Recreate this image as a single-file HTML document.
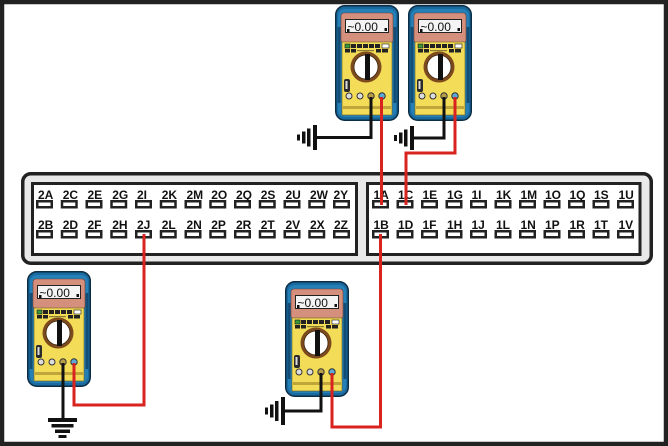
<!DOCTYPE html>
<html><head><meta charset="utf-8"><style>
html,body{margin:0;padding:0;background:#fff;}
svg{display:block;}
.lb{font-family:"Liberation Sans",Arial,sans-serif;font-weight:bold;font-size:12px;fill:#111;}
.pin{fill:#fff;stroke:#222;stroke-width:2.5;}
.dsp{font-family:"Liberation Sans",Arial,sans-serif;font-size:12px;fill:#111;}
</style></head><body>
<svg width="668" height="446" viewBox="0 0 668 446" xmlns="http://www.w3.org/2000/svg">
<defs></defs>
<rect x="2" y="2" width="664" height="442" fill="#fff" stroke="#222" stroke-width="4.5"/>

<!-- connector -->
<rect x="22.75" y="173.75" width="628.5" height="89.5" rx="8" fill="#e9e9e9" stroke="#222" stroke-width="3.5"/>
<rect x="32.5" y="183.5" width="324" height="71" fill="#fff" stroke="#222" stroke-width="3"/>
<rect x="367.5" y="183.5" width="272.5" height="71" fill="#fff" stroke="#222" stroke-width="3"/>

<!-- left pins -->
<g>
<rect class="pin" x="37.25" y="201.25" width="14.5" height="6"/>
<rect class="pin" x="62" y="201.25" width="14.5" height="6"/>
<rect class="pin" x="86.75" y="201.25" width="14.5" height="6"/>
<rect class="pin" x="111.5" y="201.25" width="14.5" height="6"/>
<rect class="pin" x="136.25" y="201.25" width="14.5" height="6"/>
<rect class="pin" x="161" y="201.25" width="14.5" height="6"/>
<rect class="pin" x="185.75" y="201.25" width="14.5" height="6"/>
<rect class="pin" x="210.5" y="201.25" width="14.5" height="6"/>
<rect class="pin" x="235.25" y="201.25" width="14.5" height="6"/>
<rect class="pin" x="260" y="201.25" width="14.5" height="6"/>
<rect class="pin" x="284.75" y="201.25" width="14.5" height="6"/>
<rect class="pin" x="309.5" y="201.25" width="14.5" height="6"/>
<rect class="pin" x="334.25" y="201.25" width="14.5" height="6"/>

<rect class="pin" x="37.25" y="231.25" width="14.5" height="6"/>
<rect class="pin" x="62" y="231.25" width="14.5" height="6"/>
<rect class="pin" x="86.75" y="231.25" width="14.5" height="6"/>
<rect class="pin" x="111.5" y="231.25" width="14.5" height="6"/>
<rect class="pin" x="136.25" y="231.25" width="14.5" height="6"/>
<rect class="pin" x="161" y="231.25" width="14.5" height="6"/>
<rect class="pin" x="185.75" y="231.25" width="14.5" height="6"/>
<rect class="pin" x="210.5" y="231.25" width="14.5" height="6"/>
<rect class="pin" x="235.25" y="231.25" width="14.5" height="6"/>
<rect class="pin" x="260" y="231.25" width="14.5" height="6"/>
<rect class="pin" x="284.75" y="231.25" width="14.5" height="6"/>
<rect class="pin" x="309.5" y="231.25" width="14.5" height="6"/>
<rect class="pin" x="334.25" y="231.25" width="14.5" height="6"/>
</g>
<g class="lb">
<text x="38" y="199">2A</text><text x="62.75" y="199">2C</text><text x="87.5" y="199">2E</text><text x="112.25" y="199">2G</text><text x="137" y="199">2I</text><text x="161.75" y="199">2K</text><text x="186.5" y="199">2M</text><text x="211.25" y="199">2O</text><text x="236" y="199">2Q</text><text x="260.75" y="199">2S</text><text x="285.5" y="199">2U</text><text x="310" y="199">2W</text><text x="333.5" y="199">2Y</text>
<text x="38" y="229">2B</text><text x="62.75" y="229">2D</text><text x="87.5" y="229">2F</text><text x="112.25" y="229">2H</text><text x="137" y="229">2J</text><text x="161.75" y="229">2L</text><text x="186.5" y="229">2N</text><text x="211.25" y="229">2P</text><text x="236" y="229">2R</text><text x="260.75" y="229">2T</text><text x="285.5" y="229">2V</text><text x="310" y="229">2X</text><text x="334" y="229">2Z</text>
</g>

<!-- right pins -->
<g>
<rect class="pin" x="373.25" y="201.25" width="14.5" height="6"/>
<rect class="pin" x="397.75" y="201.25" width="14.5" height="6"/>
<rect class="pin" x="422.25" y="201.25" width="14.5" height="6"/>
<rect class="pin" x="446.75" y="201.25" width="14.5" height="6"/>
<rect class="pin" x="471.25" y="201.25" width="14.5" height="6"/>
<rect class="pin" x="495.75" y="201.25" width="14.5" height="6"/>
<rect class="pin" x="520.25" y="201.25" width="14.5" height="6"/>
<rect class="pin" x="544.75" y="201.25" width="14.5" height="6"/>
<rect class="pin" x="569.25" y="201.25" width="14.5" height="6"/>
<rect class="pin" x="593.75" y="201.25" width="14.5" height="6"/>
<rect class="pin" x="618.25" y="201.25" width="14.5" height="6"/>

<rect class="pin" x="373.25" y="231.25" width="14.5" height="6"/>
<rect class="pin" x="397.75" y="231.25" width="14.5" height="6"/>
<rect class="pin" x="422.25" y="231.25" width="14.5" height="6"/>
<rect class="pin" x="446.75" y="231.25" width="14.5" height="6"/>
<rect class="pin" x="471.25" y="231.25" width="14.5" height="6"/>
<rect class="pin" x="495.75" y="231.25" width="14.5" height="6"/>
<rect class="pin" x="520.25" y="231.25" width="14.5" height="6"/>
<rect class="pin" x="544.75" y="231.25" width="14.5" height="6"/>
<rect class="pin" x="569.25" y="231.25" width="14.5" height="6"/>
<rect class="pin" x="593.75" y="231.25" width="14.5" height="6"/>
<rect class="pin" x="618.25" y="231.25" width="14.5" height="6"/>
</g>
<g class="lb">
<text x="373.5" y="199">1A</text><text x="398" y="199">1C</text><text x="422.5" y="199">1E</text><text x="447" y="199">1G</text><text x="471.5" y="199">1I</text><text x="496" y="199">1K</text><text x="520.5" y="199">1M</text><text x="545" y="199">1O</text><text x="569.5" y="199">1Q</text><text x="594" y="199">1S</text><text x="618.5" y="199">1U</text>
<text x="373.5" y="229">1B</text><text x="398" y="229">1D</text><text x="422.5" y="229">1F</text><text x="447" y="229">1H</text><text x="471.5" y="229">1J</text><text x="496" y="229">1L</text><text x="520.5" y="229">1N</text><text x="545" y="229">1P</text><text x="569.5" y="229">1R</text><text x="594" y="229">1T</text><text x="618.5" y="229">1V</text>
</g>

<!-- Meter top-center -->
<g transform="translate(335,5)">
 <rect x="0.75" y="0.75" width="62.5" height="114.5" rx="9" fill="#196a9e" stroke="#0b2c45" stroke-width="1.5"/>
 <rect x="3" y="4" width="58" height="108" rx="7" fill="#2580b8"/>
 <rect x="2.5" y="22" width="3" height="76" fill="#134d75"/><rect x="58.5" y="22" width="3" height="76" fill="#134d75"/>
 <rect x="6" y="8" width="52" height="30" rx="3" fill="#d48f7d" stroke="#7a3d30" stroke-width="0.6"/>
 <rect x="10.5" y="14.5" width="43" height="13" fill="#f4f4f4" stroke="#222" stroke-width="1"/>
 <text class="dsp" x="12.5" y="26">~0.00</text>
 <rect x="12" y="24" width="2.5" height="3" fill="#111"/><rect x="49.5" y="23" width="2.5" height="3" fill="#111"/>
 <rect x="7" y="37" width="50" height="73" fill="#f3dd58" stroke="#6b5d1a" stroke-width="0.6"/>
 <rect x="10" y="39" width="5" height="4" fill="#3a9a3a" stroke="#111" stroke-width="0.6"/>
 <rect x="16" y="39" width="5" height="4" fill="#222"/><rect x="22" y="39" width="5" height="4" fill="#222"/><rect x="28" y="39" width="5" height="4" fill="#222"/><rect x="34" y="39" width="5" height="4" fill="#222"/><rect x="40" y="39" width="5" height="4" fill="#222"/>
 <rect x="47" y="39" width="7" height="4" fill="#fff" stroke="#111" stroke-width="0.6"/>
 <rect x="10" y="44" width="5" height="3.5" fill="#222"/><rect x="16" y="44" width="5" height="3.5" fill="#222"/><rect x="22" y="45" width="17" height="1.2" fill="#8a7a30"/><rect x="41" y="44" width="5" height="3.5" fill="#222"/><rect x="47" y="44" width="6" height="3.5" fill="#222"/>
 <circle cx="31" cy="62" r="15.5" fill="#7c4a1c"/><circle cx="31" cy="62" r="12" fill="#fff" stroke="#3a2410" stroke-width="0.8"/>
 <rect x="30" y="49" width="5" height="26" fill="#111"/>
 <rect x="9" y="74" width="6" height="13" rx="2" fill="#2a2a2a"/><rect x="10.5" y="76" width="2" height="8" fill="#ddd"/>
 <circle cx="14" cy="91" r="3" fill="#ddd" stroke="#333" stroke-width="1"/><circle cx="25" cy="91" r="3" fill="#ddd" stroke="#333" stroke-width="1"/>
 <circle cx="36" cy="91" r="3.2" fill="#b79d4a" stroke="#333" stroke-width="1"/><circle cx="47" cy="91" r="3.2" fill="#5aa9d6" stroke="#333" stroke-width="1"/>
 <rect x="8" y="101" width="48" height="3" fill="#bfa53a"/>
</g>

<!-- Meter top-right -->
<g transform="translate(408,5)">
 <rect x="0.75" y="0.75" width="62.5" height="114.5" rx="9" fill="#196a9e" stroke="#0b2c45" stroke-width="1.5"/>
 <rect x="3" y="4" width="58" height="108" rx="7" fill="#2580b8"/>
 <rect x="2.5" y="22" width="3" height="76" fill="#134d75"/><rect x="58.5" y="22" width="3" height="76" fill="#134d75"/>
 <rect x="6" y="8" width="52" height="30" rx="3" fill="#d48f7d" stroke="#7a3d30" stroke-width="0.6"/>
 <rect x="10.5" y="14.5" width="43" height="13" fill="#f4f4f4" stroke="#222" stroke-width="1"/>
 <text class="dsp" x="12.5" y="26">~0.00</text>
 <rect x="12" y="24" width="2.5" height="3" fill="#111"/><rect x="49.5" y="23" width="2.5" height="3" fill="#111"/>
 <rect x="7" y="37" width="50" height="73" fill="#f3dd58" stroke="#6b5d1a" stroke-width="0.6"/>
 <rect x="10" y="39" width="5" height="4" fill="#3a9a3a" stroke="#111" stroke-width="0.6"/>
 <rect x="16" y="39" width="5" height="4" fill="#222"/><rect x="22" y="39" width="5" height="4" fill="#222"/><rect x="28" y="39" width="5" height="4" fill="#222"/><rect x="34" y="39" width="5" height="4" fill="#222"/><rect x="40" y="39" width="5" height="4" fill="#222"/>
 <rect x="47" y="39" width="7" height="4" fill="#fff" stroke="#111" stroke-width="0.6"/>
 <rect x="10" y="44" width="5" height="3.5" fill="#222"/><rect x="16" y="44" width="5" height="3.5" fill="#222"/><rect x="22" y="45" width="17" height="1.2" fill="#8a7a30"/><rect x="41" y="44" width="5" height="3.5" fill="#222"/><rect x="47" y="44" width="6" height="3.5" fill="#222"/>
 <circle cx="31" cy="62" r="15.5" fill="#7c4a1c"/><circle cx="31" cy="62" r="12" fill="#fff" stroke="#3a2410" stroke-width="0.8"/>
 <rect x="30" y="49" width="5" height="26" fill="#111"/>
 <rect x="9" y="74" width="6" height="13" rx="2" fill="#2a2a2a"/><rect x="10.5" y="76" width="2" height="8" fill="#ddd"/>
 <circle cx="14" cy="91" r="3" fill="#ddd" stroke="#333" stroke-width="1"/><circle cx="25" cy="91" r="3" fill="#ddd" stroke="#333" stroke-width="1"/>
 <circle cx="36" cy="91" r="3.2" fill="#b79d4a" stroke="#333" stroke-width="1"/><circle cx="47" cy="91" r="3.2" fill="#5aa9d6" stroke="#333" stroke-width="1"/>
 <rect x="8" y="101" width="48" height="3" fill="#bfa53a"/>
</g>

<!-- Meter bottom-left -->
<g transform="translate(27,271)">
 <rect x="0.75" y="0.75" width="62.5" height="114.5" rx="9" fill="#196a9e" stroke="#0b2c45" stroke-width="1.5"/>
 <rect x="3" y="4" width="58" height="108" rx="7" fill="#2580b8"/>
 <rect x="2.5" y="22" width="3" height="76" fill="#134d75"/><rect x="58.5" y="22" width="3" height="76" fill="#134d75"/>
 <rect x="6" y="8" width="52" height="30" rx="3" fill="#d48f7d" stroke="#7a3d30" stroke-width="0.6"/>
 <rect x="10.5" y="14.5" width="43" height="13" fill="#f4f4f4" stroke="#222" stroke-width="1"/>
 <text class="dsp" x="12.5" y="26">~0.00</text>
 <rect x="12" y="24" width="2.5" height="3" fill="#111"/><rect x="49.5" y="23" width="2.5" height="3" fill="#111"/>
 <rect x="7" y="37" width="50" height="73" fill="#f3dd58" stroke="#6b5d1a" stroke-width="0.6"/>
 <rect x="10" y="39" width="5" height="4" fill="#3a9a3a" stroke="#111" stroke-width="0.6"/>
 <rect x="16" y="39" width="5" height="4" fill="#222"/><rect x="22" y="39" width="5" height="4" fill="#222"/><rect x="28" y="39" width="5" height="4" fill="#222"/><rect x="34" y="39" width="5" height="4" fill="#222"/><rect x="40" y="39" width="5" height="4" fill="#222"/>
 <rect x="47" y="39" width="7" height="4" fill="#fff" stroke="#111" stroke-width="0.6"/>
 <rect x="10" y="44" width="5" height="3.5" fill="#222"/><rect x="16" y="44" width="5" height="3.5" fill="#222"/><rect x="22" y="45" width="17" height="1.2" fill="#8a7a30"/><rect x="41" y="44" width="5" height="3.5" fill="#222"/><rect x="47" y="44" width="6" height="3.5" fill="#222"/>
 <circle cx="31" cy="62" r="15.5" fill="#7c4a1c"/><circle cx="31" cy="62" r="12" fill="#fff" stroke="#3a2410" stroke-width="0.8"/>
 <rect x="30" y="49" width="5" height="26" fill="#111"/>
 <rect x="9" y="74" width="6" height="13" rx="2" fill="#2a2a2a"/><rect x="10.5" y="76" width="2" height="8" fill="#ddd"/>
 <circle cx="14" cy="91" r="3" fill="#ddd" stroke="#333" stroke-width="1"/><circle cx="25" cy="91" r="3" fill="#ddd" stroke="#333" stroke-width="1"/>
 <circle cx="36" cy="91" r="3.2" fill="#b79d4a" stroke="#333" stroke-width="1"/><circle cx="47" cy="91" r="3.2" fill="#5aa9d6" stroke="#333" stroke-width="1"/>
 <rect x="8" y="101" width="48" height="3" fill="#bfa53a"/>
</g>

<!-- Meter bottom-center -->
<g transform="translate(285,281)">
 <rect x="0.75" y="0.75" width="62.5" height="114.5" rx="9" fill="#196a9e" stroke="#0b2c45" stroke-width="1.5"/>
 <rect x="3" y="4" width="58" height="108" rx="7" fill="#2580b8"/>
 <rect x="2.5" y="22" width="3" height="76" fill="#134d75"/><rect x="58.5" y="22" width="3" height="76" fill="#134d75"/>
 <rect x="6" y="8" width="52" height="30" rx="3" fill="#d48f7d" stroke="#7a3d30" stroke-width="0.6"/>
 <rect x="10.5" y="14.5" width="43" height="13" fill="#f4f4f4" stroke="#222" stroke-width="1"/>
 <text class="dsp" x="12.5" y="26">~0.00</text>
 <rect x="12" y="24" width="2.5" height="3" fill="#111"/><rect x="49.5" y="23" width="2.5" height="3" fill="#111"/>
 <rect x="7" y="37" width="50" height="73" fill="#f3dd58" stroke="#6b5d1a" stroke-width="0.6"/>
 <rect x="10" y="39" width="5" height="4" fill="#3a9a3a" stroke="#111" stroke-width="0.6"/>
 <rect x="16" y="39" width="5" height="4" fill="#222"/><rect x="22" y="39" width="5" height="4" fill="#222"/><rect x="28" y="39" width="5" height="4" fill="#222"/><rect x="34" y="39" width="5" height="4" fill="#222"/><rect x="40" y="39" width="5" height="4" fill="#222"/>
 <rect x="47" y="39" width="7" height="4" fill="#fff" stroke="#111" stroke-width="0.6"/>
 <rect x="10" y="44" width="5" height="3.5" fill="#222"/><rect x="16" y="44" width="5" height="3.5" fill="#222"/><rect x="22" y="45" width="17" height="1.2" fill="#8a7a30"/><rect x="41" y="44" width="5" height="3.5" fill="#222"/><rect x="47" y="44" width="6" height="3.5" fill="#222"/>
 <circle cx="31" cy="62" r="15.5" fill="#7c4a1c"/><circle cx="31" cy="62" r="12" fill="#fff" stroke="#3a2410" stroke-width="0.8"/>
 <rect x="30" y="49" width="5" height="26" fill="#111"/>
 <rect x="9" y="74" width="6" height="13" rx="2" fill="#2a2a2a"/><rect x="10.5" y="76" width="2" height="8" fill="#ddd"/>
 <circle cx="14" cy="91" r="3" fill="#ddd" stroke="#333" stroke-width="1"/><circle cx="25" cy="91" r="3" fill="#ddd" stroke="#333" stroke-width="1"/>
 <circle cx="36" cy="91" r="3.2" fill="#b79d4a" stroke="#333" stroke-width="1"/><circle cx="47" cy="91" r="3.2" fill="#5aa9d6" stroke="#333" stroke-width="1"/>
 <rect x="8" y="101" width="48" height="3" fill="#bfa53a"/>
</g>

<!-- black leads -->
<g fill="none" stroke="#111" stroke-width="3" stroke-linejoin="miter">
 <polyline points="371,97 371,137.5 316,137.5"/>
 <polyline points="444,97 444,138 413,138"/>
 <polyline points="63,363 63,419"/>
 <polyline points="321,373 321,411 284,411"/>
</g>

<!-- grounds -->
<g fill="#111">
 <rect x="313" y="125" width="4" height="25"/><rect x="307" y="128.5" width="3.5" height="18"/><rect x="302" y="131.5" width="3.5" height="12"/><rect x="297" y="134.5" width="3" height="6"/>
 <rect x="410" y="126" width="4" height="24"/><rect x="404" y="129.5" width="3.5" height="17"/><rect x="399" y="132.5" width="3.5" height="11"/><rect x="394" y="135" width="3" height="6"/>
 <rect x="48" y="418" width="29" height="4"/><rect x="51.5" y="424" width="22" height="3.5"/><rect x="55" y="429.5" width="15" height="3.5"/><rect x="58.5" y="435" width="8" height="3"/>
 <rect x="281" y="397" width="4" height="28"/><rect x="275" y="401" width="3.5" height="20"/><rect x="270" y="404.5" width="3.5" height="13"/><rect x="265" y="407.5" width="3" height="7"/>
</g>

<!-- red leads -->
<g fill="none" stroke="#d8231f" stroke-width="3" stroke-linejoin="miter">
 <polyline points="381.5,97 381.5,205"/>
 <polyline points="455,97 455,153 406,153 406,205"/>
 <polyline points="74,363 74,405 144,405 144,234"/>
 <polyline points="332,373 332,427 380.5,427 380.5,234"/>
</g>
</svg>
</body></html>
